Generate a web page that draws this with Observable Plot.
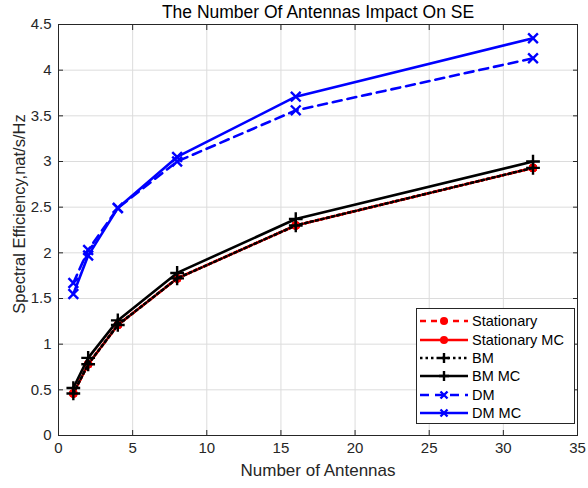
<!DOCTYPE html>
<html>
<head>
<meta charset="utf-8">
<script src="https://cdn.jsdelivr.net/npm/d3@7"></script>
<script src="https://cdn.jsdelivr.net/npm/@observablehq/plot@0.6"></script>
<style>
  html, body { margin: 0; padding: 0; background: #fff; }
  #wrap { position: relative; width: 588px; height: 488px; font-family: "Liberation Sans", Arial, sans-serif; }
  #legend { position: absolute; left: 416px; top: 308px; width: 159px; height: 116px; border: 1px solid #262626; background: #fff; box-sizing: border-box; padding-top: 3px; }
  .row { display: flex; align-items: center; height: 18.4px; font-size: 14.5px; color: #000; }
  .row svg { margin-left: 3px; margin-right: 4px; }
</style>
</head>
<body>
<div id="wrap"><div id="chart"></div><div id="legend"></div></div>
<script>
const antennas = [1, 2, 4, 8, 16, 32];
const stationary   = [0.46, 0.78, 1.21, 1.72, 2.30, 2.93];
const stationaryMC = [0.46, 0.78, 1.21, 1.72, 2.30, 2.93];
const bm           = [0.46, 0.78, 1.21, 1.72, 2.30, 2.93];
const bmMC         = [0.52, 0.85, 1.26, 1.78, 2.37, 3.00];
const dm           = [1.67, 2.03, 2.49, 3.00, 3.56, 4.13];
const dmMC         = [1.55, 1.97, 2.49, 3.05, 3.71, 4.35];
const xTicks = [0, 5, 10, 15, 20, 25, 30, 35];
const yTicks = [0, 0.5, 1, 1.5, 2, 2.5, 3, 3.5, 4, 4.5];
const titleText = "The Number Of Antennas Impact On SE";
const xLabel = "Number of Antennas";
const yLabel = "Spectral Efficiency,nat/s/Hz";

const seriesDefs = [
  {name: "Stationary",    values: stationary,   color: "#ff0000", dash: "6,5",   symbol: "circle", fill: true},
  {name: "Stationary MC", values: stationaryMC, color: "#ff0000", dash: null,    symbol: "circle", fill: true},
  {name: "BM",            values: bm,           color: "#000000", dash: "2.5,3", symbol: "plus",   fill: false},
  {name: "BM MC",         values: bmMC,         color: "#000000", dash: null,    symbol: "plus",   fill: false},
  {name: "DM",            values: dm,           color: "#0000ff", dash: "9,6",   symbol: "times",  fill: false},
  {name: "DM MC",         values: dmMC,         color: "#0000ff", dash: null,    symbol: "times",  fill: false}
];

const marks = [
  Plot.gridX(xTicks, {stroke: "#dcdcdc", strokeOpacity: 1}),
  Plot.gridY(yTicks, {stroke: "#dcdcdc", strokeOpacity: 1}),
];
for (const s of seriesDefs) {
  const rows = antennas.map((a, i) => ({x: a, y: s.values[i]}));
  marks.push(Plot.line(rows, {x: "x", y: "y", stroke: s.color, strokeWidth: 2.6, strokeDasharray: s.dash || undefined}));
  marks.push(Plot.dot(rows, {x: "x", y: "y", symbol: s.symbol, r: s.symbol === "circle" ? 4 : 4.5,
    fill: s.fill ? s.color : "none", stroke: s.color, strokeWidth: s.fill ? 1 : 2.4}));
}
marks.push(
  Plot.frame({stroke: "#262626", strokeWidth: 1}),
  Plot.axisX(xTicks, {anchor: "bottom", tickSize: -5, tickPadding: 12, tickFormat: d => String(d), label: null, fontSize: 15, color: "#262626", stroke: "#262626"}),
  Plot.axisX(xTicks, {anchor: "top", tickSize: -5, text: null, label: null, stroke: "#262626"}),
  Plot.axisY(yTicks, {anchor: "left", tickSize: -5, tickPadding: 12, tickFormat: d => String(d), label: null, fontSize: 15, color: "#262626", stroke: "#262626"}),
  Plot.axisY(yTicks, {anchor: "right", tickSize: -5, text: null, label: null, stroke: "#262626"}),
  Plot.text([titleText], {frameAnchor: "top", lineAnchor: "middle", dy: -12, fontSize: 17.5, fill: "#000"}),
  Plot.text([xLabel], {frameAnchor: "bottom", lineAnchor: "middle", dy: 35, fontSize: 17, fill: "#262626"}),
  Plot.text([yLabel], {frameAnchor: "left", textAnchor: "middle", lineAnchor: "middle", rotate: -90, dx: -39, dy: -16, fontSize: 16.5, fill: "#262626"})
);

const chart = Plot.plot({
  width: 588, height: 488,
  marginLeft: 58, marginRight: 11, marginTop: 24, marginBottom: 53,
  style: {fontFamily: "'Liberation Sans', Arial, sans-serif", background: "#fff", overflow: "visible"},
  x: {domain: [0, 35]},
  y: {domain: [0, 4.5]},
  marks
});
document.getElementById("chart").appendChild(chart);

const legend = document.getElementById("legend");
for (const s of seriesDefs) {
  const row = document.createElement("div");
  row.className = "row";
  const W = 48, H = 14;
  let sym = "";
  if (s.symbol === "circle") sym = `<circle cx="${W/2}" cy="${H/2}" r="4" fill="${s.color}"/>`;
  else if (s.symbol === "plus") sym = `<path d="M${W/2-5},${H/2}h10M${W/2},${H/2-5}v10" stroke="${s.color}" stroke-width="2.4"/>`;
  else sym = `<path d="M${W/2-3.5},${H/2-3.5}l7,7M${W/2-3.5},${H/2+3.5}l7,-7" stroke="${s.color}" stroke-width="2.4"/>`;
  row.innerHTML = `<svg width="${W}" height="${H}"><line x1="0" x2="${W}" y1="${H/2}" y2="${H/2}" stroke="${s.color}" stroke-width="2.6" ${s.dash ? `stroke-dasharray="${s.dash}"` : ""}/>${sym}</svg><span>${s.name}</span>`;
  legend.appendChild(row);
}
</script>
</body>
</html>
